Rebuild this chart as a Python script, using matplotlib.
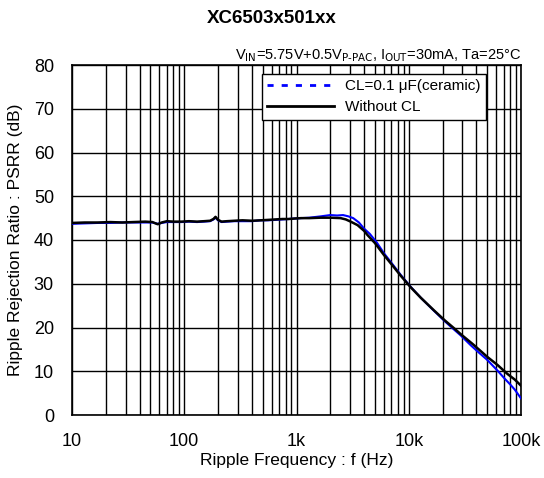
import matplotlib
matplotlib.use('Agg')
import matplotlib.pyplot as plt
from matplotlib.ticker import LogLocator, NullFormatter, FixedLocator, FixedFormatter

plt.rcParams['font.family'] = ['Liberation Sans', 'Noto Sans CJK JP', 'DejaVu Sans']

title = 'XC6503x501xx'
condition = r'V$_{\mathrm{IN}}$=5.75V+0.5V$_{\text{P-PAC}}$, I$_{\mathrm{OUT}}$=30mA, Ta=25°C'
xlabel = 'Ripple Frequency : f (Hz)'
ylabel = 'Ripple Rejection Ratio : PSRR (dB)'
label_cl = 'CL=0.1 μF(ceramic)'
label_nocl = 'Without CL'

xticks = [10, 100, 1000, 10000, 100000]
xtick_labels = ['10', '100', '1k', '10k', '100k']
yticks = [0, 10, 20, 30, 40, 50, 60, 70, 80]

# Without CL (black)
freq_nocl = [10, 13, 17, 22, 28, 35, 45, 52, 58, 63, 70, 80, 95, 110, 130, 150, 170, 182, 190,
             200, 215, 240, 280, 330, 400, 480, 560, 650, 750, 850, 950, 1100, 1300, 1640,
             2000, 2470, 2750, 3035, 3500, 4000, 4300, 5000, 6000, 7000, 8500, 10400, 12800,
             16800, 21000, 25400, 29000, 38000, 50000, 62000, 75600, 88000, 100000]
psrr_nocl = [43.9, 44.0, 44.0, 44.1, 44.0, 44.1, 44.2, 44.1, 43.6, 44.0, 44.3, 44.2, 44.2,
             44.3, 44.2, 44.3, 44.4, 44.8, 45.3, 44.6, 44.2, 44.3, 44.4, 44.5, 44.4, 44.5,
             44.6, 44.7, 44.8, 44.8, 44.9, 45.0, 45.0, 45.1, 45.1, 45.0, 44.7, 44.2, 43.4,
             42.1, 41.1, 39.3, 36.6, 34.5, 31.8, 29.2, 26.8, 23.9, 21.6, 19.8, 18.5, 16.0,
             13.3, 11.4, 9.4, 8.1, 6.7]

# CL=0.1uF ceramic (blue)
freq_cl = [10, 13, 17, 22, 28, 35, 45, 52, 58, 63, 70, 80, 95, 110, 130, 150, 170, 182, 190,
           200, 215, 240, 280, 330, 400, 480, 560, 650, 750, 850, 950, 1100, 1300, 1640,
           2000, 2300, 2600, 2900, 3200, 3600, 4000, 4500, 5200, 6000, 7000, 8500, 10400,
           12800, 16800, 21000, 25400, 29000, 35800, 42000, 50000, 62000, 71000, 80000,
           88000, 100000]
psrr_cl = [43.7, 43.8, 43.9, 43.9, 44.0, 44.0, 44.0, 44.0, 43.7, 43.9, 44.1, 44.1, 44.1,
           44.2, 44.1, 44.2, 44.3, 44.7, 45.1, 44.5, 44.1, 44.2, 44.3, 44.3, 44.3, 44.5,
           44.5, 44.6, 44.7, 44.8, 44.9, 45.0, 45.1, 45.4, 45.7, 45.6, 45.7, 45.4, 45.0,
           44.0, 42.6, 41.4, 39.4, 37.0, 34.8, 32.0, 29.3, 26.8, 23.8, 21.4, 19.5, 18.2,
           15.9, 14.3, 12.6, 10.1, 8.4, 7.0, 5.8, 3.8]

fig = plt.figure(figsize=(5.44, 4.78), dpi=100)
ax = fig.add_axes([72 / 544, 1 - 415 / 478, 449 / 544, 350 / 478])

ax.plot(freq_cl, psrr_cl, color='#0000ff', linewidth=1.5, label=label_cl, zorder=3)
ax.plot(freq_nocl, psrr_nocl, color='black', linewidth=1.8, label=label_nocl, zorder=4)

ax.set_xscale('log')
ax.set_xlim(10, 100000)
ax.set_ylim(0, 80)
ax.xaxis.set_major_locator(FixedLocator(xticks))
ax.xaxis.set_major_formatter(FixedFormatter(xtick_labels))
ax.xaxis.set_minor_locator(LogLocator(base=10, subs=range(2, 10)))
ax.xaxis.set_minor_formatter(NullFormatter())
ax.set_yticks(yticks)

ax.grid(True, which='major', color='black', linewidth=1.0)
ax.grid(True, which='minor', axis='x', color='black', linewidth=1.0)
ax.tick_params(which='both', length=0, labelsize=13)
ax.tick_params(axis='x', pad=13)
ax.tick_params(axis='y', pad=13)
for s in ax.spines.values():
    s.set_linewidth(1.2)

ax.set_xlabel(xlabel, fontsize=12.5, labelpad=2)
ax.set_ylabel(ylabel, fontsize=12.5, labelpad=8)
fig.text(0.5, 0.962, title, ha='center', va='center', fontsize=13.5, fontweight='bold')
ax.text(1.0, 1.004, condition, transform=ax.transAxes, ha='right', va='bottom', fontsize=10.5)

# legend handles with a dashed blue sample for the CL curve
h1, = ax.plot([], [], color='#0000ff', linestyle=(0, (2.2, 2.9)), linewidth=2)
h2, = ax.plot([], [], color='black', linewidth=2)
leg = ax.legend([h1, h2], [label_cl, label_nocl], loc='upper right',
                bbox_to_anchor=(0.922, 0.974), borderaxespad=0, fontsize=11, frameon=True,
                fancybox=False, edgecolor='black', framealpha=1, handlelength=4.4,
                handletextpad=0.7, borderpad=0.35, labelspacing=0.45)
leg.get_frame().set_linewidth(1.0)

plt.savefig('out.png', dpi=100)
plt.close()
